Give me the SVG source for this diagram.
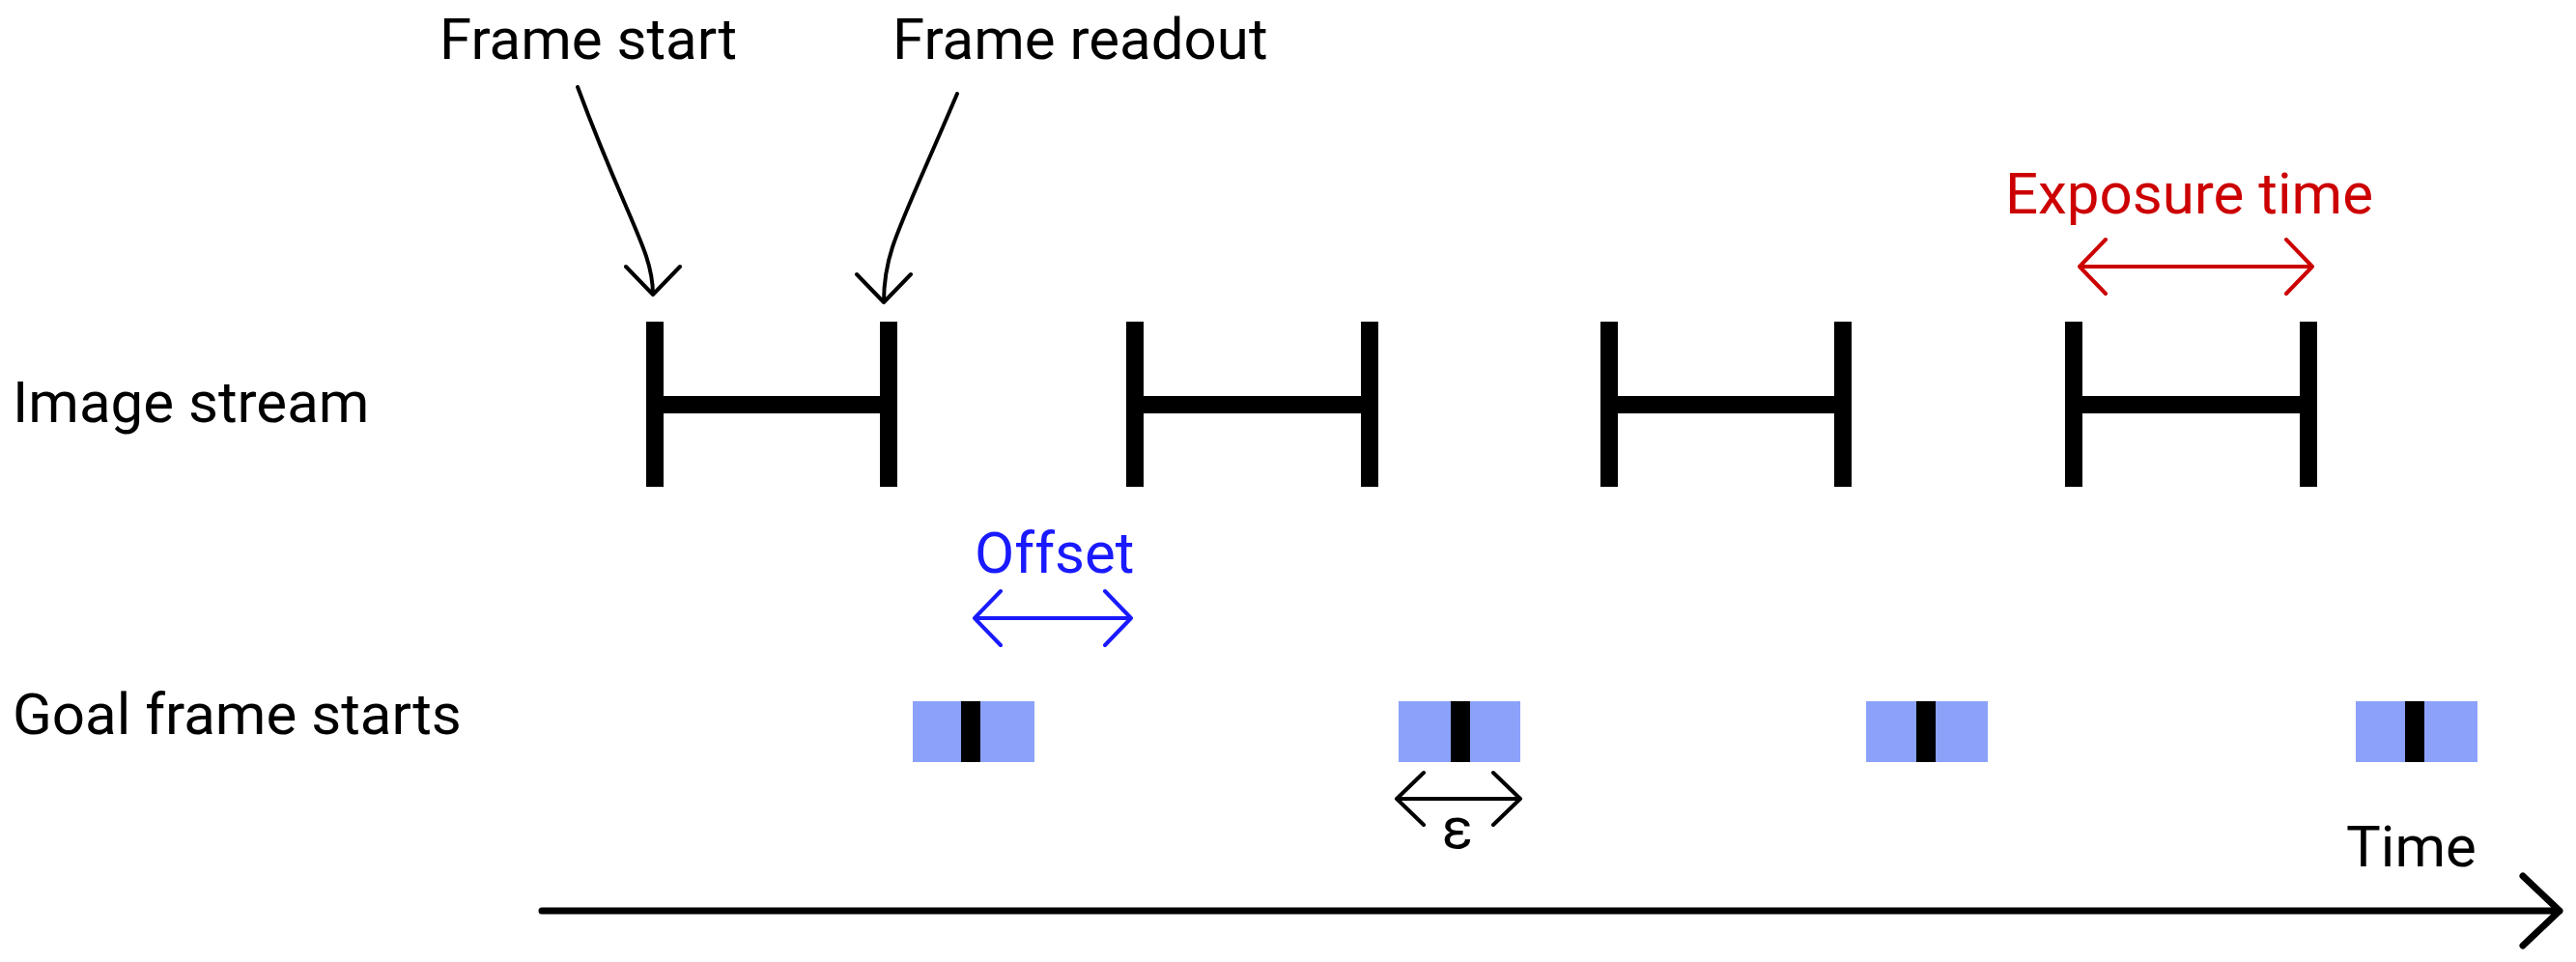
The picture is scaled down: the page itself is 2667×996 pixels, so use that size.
<svg xmlns="http://www.w3.org/2000/svg" width="2667" height="996" viewBox="0 0 2667 996">
<style>
text{font-family:Roboto,"Liberation Sans",sans-serif;font-size:60px;fill:#000}
.bar{fill:#000}
.box{fill:#8ca2fa}
.ln{fill:none;stroke-width:4;stroke-linecap:round;stroke-linejoin:round}
</style>
<rect width="2667" height="996" fill="#fff"/>
<g id="labels">
<text x="13" y="437">Image stream</text>
<text x="13" y="760">Goal frame starts</text>
<text x="455" y="61">Frame start</text>
<text x="924" y="61">Frame readout</text>
<text x="2076" y="221" style="fill:#cc0000">Exposure time</text>
<text x="1009" y="593" style="fill:#1a1aff">Offset</text>
<text x="1509" y="878" text-anchor="middle">ε</text>
<text x="2429" y="897">Time</text>
</g>
<g id="frames">
<g id="f1"><rect class="bar" x="669" y="333" width="18" height="171"/><rect class="bar" x="911" y="333" width="18" height="171"/><rect class="bar" x="678" y="410" width="242" height="18"/></g>
<g id="f2"><rect class="bar" x="1166" y="333" width="18" height="171"/><rect class="bar" x="1409" y="333" width="18" height="171"/><rect class="bar" x="1175" y="410" width="243" height="18"/></g>
<g id="f3"><rect class="bar" x="1657" y="333" width="18" height="171"/><rect class="bar" x="1899" y="333" width="18" height="171"/><rect class="bar" x="1666" y="410" width="242" height="18"/></g>
<g id="f4"><rect class="bar" x="2138" y="333" width="18" height="171"/><rect class="bar" x="2381" y="333" width="18" height="171"/><rect class="bar" x="2147" y="410" width="243" height="18"/></g>
</g>
<g id="goals">
<g id="g1"><rect class="box" x="945" y="726" width="126" height="63"/><rect class="bar" x="995" y="726" width="20" height="63"/></g>
<g id="g2"><rect class="box" x="1448" y="726" width="126" height="63"/><rect class="bar" x="1502" y="726" width="20" height="63"/></g>
<g id="g3"><rect class="box" x="1932" y="726" width="126" height="63"/><rect class="bar" x="1984" y="726" width="20" height="63"/></g>
<g id="g4"><rect class="box" x="2439" y="726" width="126" height="63"/><rect class="bar" x="2490" y="726" width="20" height="63"/></g>
</g>
<g id="connectors">
<path class="ln" stroke="#000" d="M598,90 C650,230 676,260 676,305 M648,276 L676,305 L704,276"/>
<path class="ln" stroke="#000" d="M991,97 C930,240 915,260 915,313 M887,284 L915,313 L943,284"/>
<path class="ln" stroke="#cc0000" d="M2153,276 L2394,276 M2180,248 L2153,276 L2180,304 M2367,248 L2394,276 L2367,304"/>
<path class="ln" stroke="#1a1aff" d="M1009,640 L1171,640 M1036,612 L1009,640 L1036,668 M1144,612 L1171,640 L1144,668"/>
<path class="ln" stroke="#000" d="M1446,827 L1574,827 M1474,800 L1446,827 L1474,854 M1546,800 L1574,827 L1546,854"/>
<path fill="none" stroke="#000" stroke-width="7" stroke-linecap="round" stroke-linejoin="round" d="M561,943 L2650,943 M2612,907 L2650,943 L2612,979"/>
</g>
</svg>
